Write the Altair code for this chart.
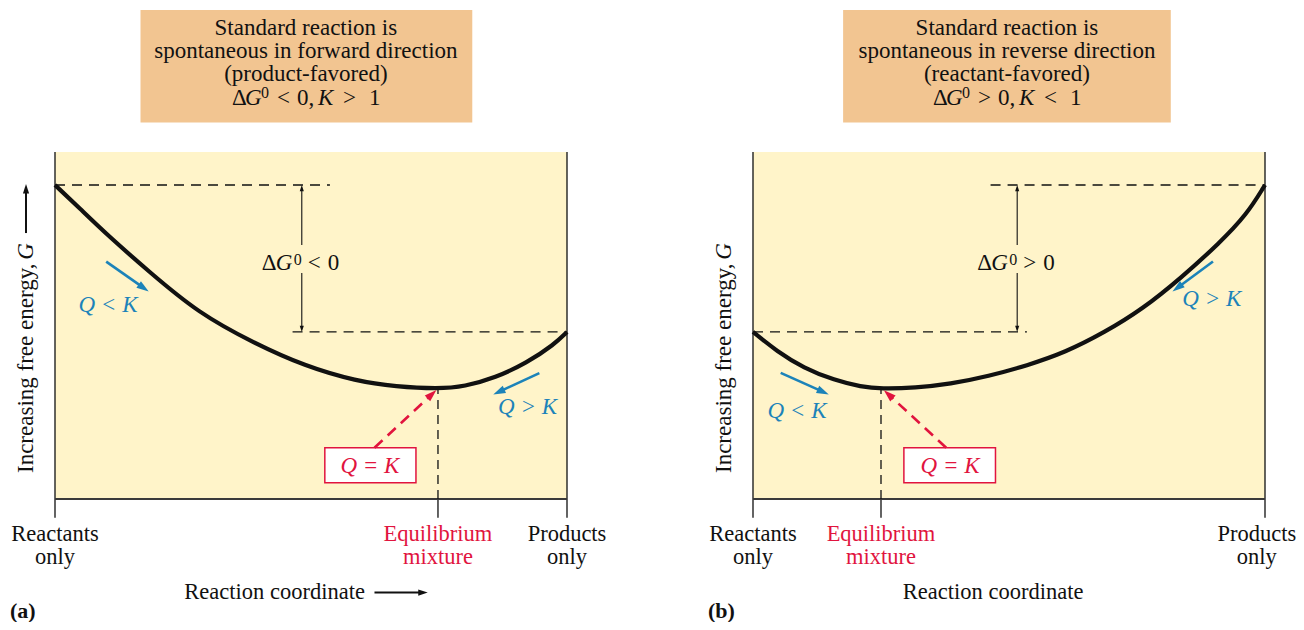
import math
import altair as alt
import pandas as pd

# ---------------------------------------------------------------- data
# x = reaction coordinate (0 = reactants only, 1 = products only)
# g = free energy (0 = bottom of the frame, 1 = higher standard level)
curve_a_x = [0.000, 0.048, 0.102, 0.183, 0.280, 0.388, 0.488, 0.589, 0.666, 0.748, 0.800, 0.860, 0.921, 0.975, 1.000]
curve_a_g = [1.000, 0.926, 0.841, 0.725, 0.592, 0.497, 0.423, 0.375, 0.358, 0.351, 0.358, 0.386, 0.433, 0.492, 0.532]
curve_b_x = [0.000, 0.047, 0.099, 0.159, 0.212, 0.250, 0.317, 0.385, 0.460, 0.535, 0.610, 0.686, 0.761, 0.836, 0.911, 0.964, 1.000]
curve_b_g = [0.532, 0.470, 0.417, 0.378, 0.357, 0.351, 0.354, 0.366, 0.391, 0.425, 0.467, 0.530, 0.605, 0.704, 0.815, 0.905, 1.000]

eq_x = {"a": 0.748, "b": 0.250}          # equilibrium mixture position
eq_g = 0.347                              # free energy at equilibrium
g_high, g_low = 1.000, 0.532              # standard free energies
frame_top = 1.105
tick_low = -0.060

title_lines = {
    "a": ["Standard reaction is", "spontaneous in forward direction", "(product-favored)"],
    "b": ["Standard reaction is", "spontaneous in reverse direction", "(reactant-favored)"],
}
title_ops = {"a": ("<", ">"), "b": (">", "<")}
bottom_labels = [("Reactants", "only"), ("Equilibrium", "mixture"), ("Products", "only")]
axis_title = ["Increasing free energy,", "G"]
x_title = "Reaction coordinate"
panel_tags = {"a": "(a)", "b": "(b)"}
q_labels = ["Q < K", "Q > K", "Q = K"]

# ---------------------------------------------------------------- layout (style)
W, H = 1288, 614
PX_X, PX_G = 512.0, 314.0            # pixels per reaction-coordinate / energy unit
ORIGIN = {"a": 47.0, "b": 745.0}     # x pixel of "reactants only" inside the chart
BASE_Y = 491.0                       # y pixel of g = 0

SERIF = "Liberation Serif"
YELLOW = "#FFF4C9"
TAN = "#F2C591"
BLUE = "#1C83B9"
RED = "#E1143E"
INK = "#111111"
HEAD = "M0,-1L-0.65,1L0.65,1Z"
FS = 22.5

panels = {
    "a": dict(
        levels=[(0.000, 0.537, g_high), (0.464, 1.000, g_low)],
        dg_x=0.482, dg_gap=(0.809, 0.720), dg_op="<",
        tbox=(0.167, 0.815), tc=0.490,
        qk_box=(0.527, 0.705), qk_lab=0.615, red=(0.624, 0.163, 0.745, 0.347),
        blue=[(0.100, 0.756, 0.183, 0.661), (0.946, 0.401, 0.856, 0.333)],
        blue_lab=[(q_labels[0], 0.1035, 0.596), (q_labels[1], 0.923, 0.272)],
        xt=0.429, xt_arrow=(0.624, 0.728, -0.298), yarrow=(0.847, 1.003),
        ylab_x=-0.043, yarrow_x=-0.0566, prod_dx=0.0,
    ),
    "b": dict(
        levels=[(0.464, 1.000, g_high), (0.000, 0.535, g_low)],
        dg_x=0.516, dg_gap=(0.809, 0.720), dg_op=">",
        tbox=(0.176, 0.816), tc=0.496,
        qk_box=(0.2947, 0.4736), qk_lab=0.3848, red=(0.3773, 0.1634, 0.2557, 0.3465),
        blue=[(0.0541, 0.4016, 0.148, 0.333), (0.8984, 0.7564, 0.8193, 0.6611)],
        blue_lab=[(q_labels[0], 0.0859, 0.2586), (q_labels[1], 0.896, 0.6134)],
        xt=0.469, xt_arrow=None, yarrow=None,
        ylab_x=-0.043, yarrow_x=-0.0566, prod_dx=-0.016,
    ),
}
curves = {"a": (curve_a_x, curve_a_g), "b": (curve_b_x, curve_b_g)}


def build_panel(key):
    P = panels[key]
    o = ORIGIN[key]
    xs = alt.Scale(domain=[-o / PX_X, (W - o) / PX_X], nice=False, zero=False)
    ys = alt.Scale(domain=[-(H - BASE_Y) / PX_G, BASE_Y / PX_G], nice=False, zero=False)

    def X(f):
        return alt.X(f, type="quantitative", scale=xs, axis=None)

    def Y(f):
        return alt.Y(f, type="quantitative", scale=ys, axis=None)

    layers = []

    def rect(x1, x2, g1, g2, **mk):
        df = pd.DataFrame([dict(x=x1, x2=x2, g=g1, g2=g2)])
        layers.append(alt.Chart(df).mark_rect(**mk).encode(
            x=X("x"), x2=alt.X2("x2"), y=Y("g"), y2=alt.Y2("g2")))

    def rules(rows, color, width, dash=None):
        df = pd.DataFrame(rows, columns=["x", "g", "x2", "g2"])
        mk = dict(color=color, strokeWidth=width)
        if dash:
            mk["strokeDash"] = dash
        layers.append(alt.Chart(df).mark_rule(**mk).encode(
            x=X("x"), y=Y("g"), x2=alt.X2("x2"), y2=alt.Y2("g2")))

    def arrow(x1, g1, x2, g2, color, width, size, dash=None):
        dxp = (x2 - x1) * PX_X
        dyp = -(g2 - g1) * PX_G
        L = math.hypot(dxp, dyp)
        ux, uy = dxp / L, dyp / L
        r = math.sqrt(size) / 2
        cx = x2 - r * ux / PX_X
        cg = g2 + r * uy / PX_G
        ang = math.degrees(math.atan2(ux, -uy)) % 360
        lx = x2 - 1.5 * r * ux / PX_X
        lg = g2 + 1.5 * r * uy / PX_G
        rules([(x1, g1, lx, lg)], color, width, dash)
        df = pd.DataFrame([dict(x=cx, g=cg, ang=ang)])
        layers.append(alt.Chart(df).mark_point(
            shape=HEAD, filled=True, opacity=1, size=size, color=color, strokeWidth=0
        ).encode(x=X("x"), y=Y("g"), angle=alt.Angle("ang:Q", scale=None)))

    def texts(rows, align="center", style="normal", weight="normal"):
        df = pd.DataFrame(rows, columns=["x", "g", "text", "size", "color", "angle"])
        layers.append(alt.Chart(df).mark_text(
            align=align, baseline="alphabetic", font=SERIF, fontStyle=style, fontWeight=weight
        ).encode(x=X("x"), y=Y("g"), text="text:N",
                 size=alt.Size("size:Q", scale=None),
                 color=alt.Color("color:N", scale=None),
                 angle=alt.Angle("angle:Q", scale=None)))

    eq = eq_x[key]
    # frame and boxes
    rect(0, 1, 0, frame_top, color=YELLOW)
    rect(P["tbox"][0], P["tbox"][1], 1.199, 1.557, color=TAN)
    rect(P["qk_box"][0], P["qk_box"][1], 0.052, 0.163, fill="white", stroke=RED, strokeWidth=1.5)
    rules([(0, tick_low, 0, frame_top), (1, tick_low, 1, frame_top), (eq, tick_low, eq, 0)], "#222222", 1.4)
    rules([(0, 0, 1, 0)], "#3a3a3a", 2)
    rules([(eq, 0, eq, eq_g)], INK, 1.3, [9, 6])
    rules([(l[0], l[2], l[1], l[2]) for l in P["levels"]], INK, 1.3, [10, 7])
    # delta G double arrow
    arrow(P["dg_x"], P["dg_gap"][0], P["dg_x"], g_high, INK, 1.1, 40)
    arrow(P["dg_x"], P["dg_gap"][1], P["dg_x"], g_low, INK, 1.1, 40)
    # the curve
    cx, cg = curves[key]
    cdf = pd.DataFrame({"x": cx, "g": cg})
    layers.append(alt.Chart(cdf).mark_line(interpolate="basis", color=INK, strokeWidth=4.2).encode(
        x=X("x"), y=Y("g")))
    # blue arrows
    for (x1, g1, x2, g2) in P["blue"]:
        arrow(x1, g1, x2, g2, BLUE, 2.6, 150)
    r = P["red"]
    arrow(r[0], r[1], r[2], r[3], RED, 2.6, 150, [11, 7])
    if P["yarrow"]:
        arrow(P["yarrow_x"], P["yarrow"][0], P["yarrow_x"], P["yarrow"][1], INK, 2, 90)
    if P["xt_arrow"]:
        t = P["xt_arrow"]
        arrow(t[0], t[2], t[1], t[2], INK, 2, 90)

    # ---------------- texts
    tc = P["tc"]
    pr = 1 + P["prod_dx"]
    reg = [(tc, g, s, 23, INK, 0) for s, g in zip(title_lines[key], [1.479, 1.406, 1.331])]
    reg += [(0, -0.134, bottom_labels[0][0], FS, INK, 0), (0, -0.207, bottom_labels[0][1], FS, INK, 0),
            (pr, -0.134, bottom_labels[2][0], FS, INK, 0), (pr, -0.207, bottom_labels[2][1], FS, INK, 0),
            (eq, -0.134, bottom_labels[1][0], FS, RED, 0), (eq, -0.207, bottom_labels[1][1], FS, RED, 0),
            (P["xt"], -0.318, x_title, FS, INK, 0)]
    texts(reg)
    op1, op2 = title_ops[key]
    gl = 1.255
    left_reg = [(tc - 74 / PX_X, gl, "Δ", 23, INK, 0), (tc - 29 / PX_X, gl, op1, 23, INK, 0),
                (tc - 9 / PX_X, gl, "0,", 23, INK, 0), (tc + 37 / PX_X, gl, op2, 23, INK, 0),
                (tc + 63 / PX_X, gl, "1", 23, INK, 0)]
    d = P["dg_x"]
    gd = 0.729
    left_reg += [(d - 40 / PX_X, gd, "Δ", 23, INK, 0), (d + 6 / PX_X, gd, P["dg_op"], 23, INK, 0),
                 (d + 26 / PX_X, gd, "0", 23, INK, 0),
                 (tc - 45 / PX_X, gl + 7 / PX_G, "0", 16, INK, 0),
                 (d - 8 / PX_X, gd + 5 / PX_G, "0", 16, INK, 0),
                 (P["ylab_x"], 0.0828, axis_title[0], 23, INK, 270)]
    texts(left_reg, align="left")
    left_it = [(tc - 61 / PX_X, gl, "G", 23, INK, 0), (tc + 12 / PX_X, gl, "K", 23, INK, 0),
               (d - 26 / PX_X, gd, "G", 23, INK, 0)]
    texts(left_it, align="left", style="italic")
    texts([(P["ylab_x"], 0.815, axis_title[1], 23, INK, 270)], align="right", style="italic")
    q_rows = [(x, g, s, 23, BLUE, 0) for s, x, g in P["blue_lab"]]
    q_rows.append((P["qk_lab"], 0.083, q_labels[2], 23, RED, 0))
    texts(q_rows, style="italic")
    texts([(-0.0879, -0.379, panel_tags[key], 22, INK, 0)], align="left", weight="bold")

    return alt.layer(*layers)


chart = alt.layer(build_panel("a"), build_panel("b")).resolve_scale(
    x="independent", y="independent"
).properties(
    width=W, height=H, padding=0, autosize=alt.AutoSizeParams(type="none"), background="white"
).configure_view(strokeWidth=0)

chart.save("out.html", embed_options={"renderer": "svg", "actions": False})
